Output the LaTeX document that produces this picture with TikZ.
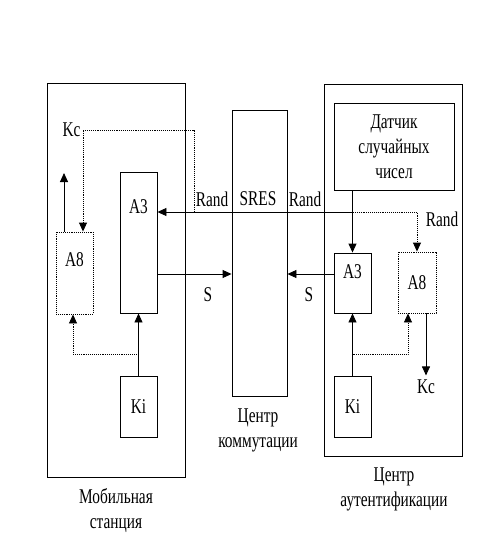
\documentclass[tikz,border=0pt]{standalone}
\usepackage{fontspec}
\setmainfont[FakeStretch=0.73]{Liberation Serif}
\usetikzlibrary{arrows.meta, calc}

\begin{document}
\begin{tikzpicture}[x=1pt, y=-1pt, >={Triangle[length=9pt, width=8pt]}, line width=0.9pt,
    every node/.style={font=\fontsize{21}{25}\selectfont},
    blk/.style={draw, minimum width=37pt, inner sep=0pt},
    dblk/.style={blk, densely dotted},
    lnk/.style={densely dotted}]
  \useasboundingbox (0,0) rectangle (503,539);
  % outer boxes
  \node[draw, minimum width=138pt, minimum height=394pt] (ms) at (116,280) {};
  \node[draw, minimum width=138pt, minimum height=372pt] (auc) at (393,270) {};
  \node[draw, minimum width=55pt, minimum height=286pt] (sres) at (259.5,253) {};
  \node[draw, minimum width=120pt, minimum height=87pt, align=center] (gen) at (394,146.5) {Датчик\\случайных\\чисел};
  % blocks
  \node[blk, minimum height=141pt] (a3m) at (138.5,242.5) {};
  \node at ($(a3m.north)+(0,35)$) {A3};
  \node[dblk, minimum height=82pt] (a8m) at (74.5,273) {};
  \node at ($(a8m.north)+(0,28)$) {A8};
  \node[blk, minimum height=61pt] (kim) at (138.5,406.5) {Ki};
  \node[blk, minimum height=60pt] (a3a) at (352.5,283) {};
  \node at ($(a3a.north)+(0,19)$) {A3};
  \node[dblk, minimum width=38pt, minimum height=61pt] (a8a) at (417,282.5) {A8};
  \node[blk, minimum height=61pt] (kia) at (352.5,406.5) {Ki};
  % helper points
  \coordinate (randj) at (353,212);
  \coordinate (kcsrc) at (194,212);
  \coordinate (kcm) at (83,130);
  \coordinate (kcout) at (64,173);
  \coordinate (sy) at (0,274);
  \coordinate (kiy) at (0,354);
  % connectors
  \draw[->] (a3a.north |- gen.south) -- (a3a.north);
  \draw[->] (randj) -- (randj -| a3m.east);
  \draw[lnk, ->] (randj) -| (a8a.north);
  \draw[lnk, ->] (kcsrc) |- (kcm) -- (kcm |- a8m.north);
  \draw[->] (kcout |- a8m.north) -- (kcout);
  \draw[->] (a3m.east |- sy) -- (sres.west |- sy);
  \draw[->] (a3a.west |- sy) -- (sres.east |- sy);
  \draw[->] (kim.north) -- (a3m.south);
  \draw[->] (kia.north) -- (a3a.south);
  \draw[lnk, ->] (kim.north |- kiy) -| ($(a8m.south)+(-1.5,0)$);
  \draw[lnk, ->] (kia.north |- kiy) -| ($(a8a.south)+(-9,0)$);
  \draw[->] ($(a8a.south)+(9,0)$) -- ++(0,62) node[below=1pt] (kca) {Kc};
  % labels
  \node[anchor=east, inner sep=2pt] (kcl) at (kcm) {Kc};
  \node (rl) at (212,199) {Rand};
  \node (sl) at (258,199) {SRES};
  \node (rr) at (305,199) {Rand};
  \node (ra) at (442,219) {Rand};
  \node (s1) at (208,295) {S};
  \node (s2) at (309,295) {S};
  \node[align=center] (msl) at (116,511) {Мобильная\\станция};
  \node[align=center] (swl) at (258,430) {Центр\\коммутации};
  \node[align=center] (aucl) at (394,489) {Центр\\аутентификации};
\end{tikzpicture}
\end{document}
